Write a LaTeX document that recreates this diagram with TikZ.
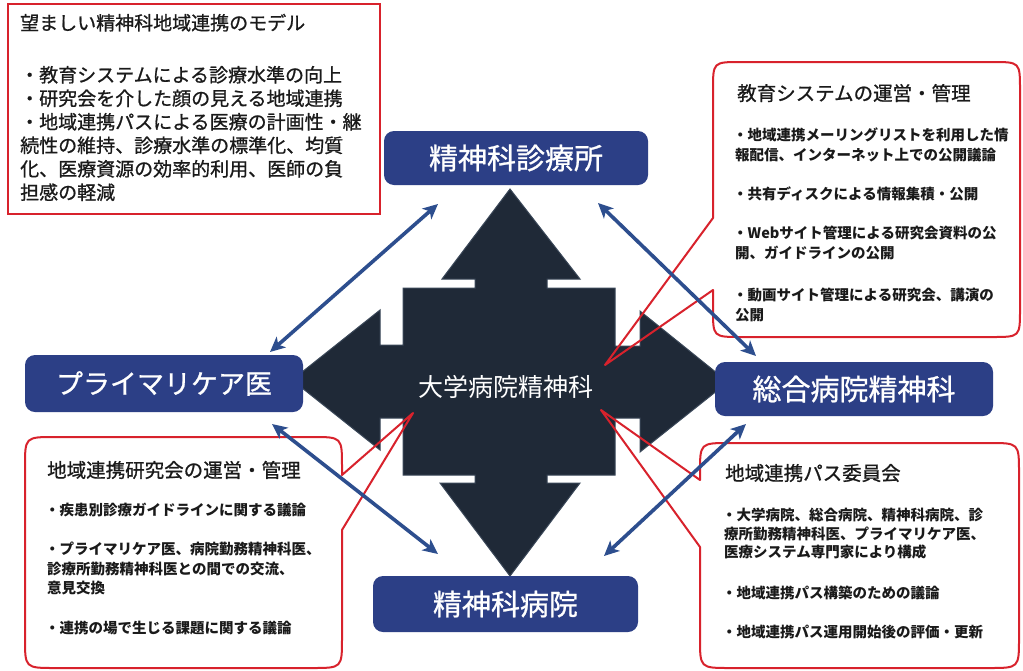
\documentclass[tikz,border=0pt]{standalone}
\usepackage{fontspec}
\newfontfamily\jp{Noto Sans CJK JP}
\newfontfamily\jpm[FakeBold=0.9]{Noto Sans CJK JP}
\usetikzlibrary{arrows.meta}
\definecolor{calloutred}{HTML}{D8222C}
\definecolor{nodeblue}{HTML}{2C3F86}
\definecolor{arrowblue}{HTML}{2D4E8E}
\definecolor{hubdark}{HTML}{1F2937}
\definecolor{hubedge}{HTML}{3A4758}
\definecolor{textdark}{HTML}{1A1A1A}
\begin{document}
\begin{tikzpicture}[x=1pt,y=-1pt,
  place/.style={fill=nodeblue, rounded corners=10pt, text=white, inner sep=0pt},
  hub/.style={fill=hubdark, draw=hubedge, line width=1pt, line join=miter},
  callout/.style={draw=calloutred, line width=2pt, line join=round},
  modelbox/.style={draw=calloutred, line width=2pt, fill=white},
  conn/.style={draw=arrowblue, line width=3.6pt, {Stealth[length=15pt,width=14pt,inset=4pt]}-{Stealth[length=15pt,width=14pt,inset=4pt]}},
  ttl/.style={anchor=base west, inner sep=0pt, text=textdark, font=\jpm\fontsize{19.5}{19.5}\selectfont},
  mdl/.style={anchor=base west, inner sep=0pt, text=textdark, font=\jpm\fontsize{19}{19}\selectfont},
  body/.style={anchor=base west, inner sep=0pt, text=textdark, font=\jp\bfseries\fontsize{14.5}{14.5}\selectfont}]
\useasboundingbox (0,0) rectangle (1023,670);
\fill[white] (0,0) rectangle (1023,670);

% model box (top left)
\draw[modelbox] (8,4) rectangle (380,214);
\node[mdl] (m0) at (20,30) {望ましい精神科地域連携のモデル};
\node[mdl] (m1) at (20,82) {・教育システムによる診療水準の向上};
\node[mdl] (m2) at (20,105.5) {・研究会を介した顔の見える地域連携};
\node[mdl] (m3) at (20,129) {・地域連携パスによる医療の計画性・継};
\node[mdl] (m4) at (20,152.5) {続性の維持、診療水準の標準化、均質};
\node[mdl] (m5) at (20,176) {化、医療資源の効率的利用、医師の負};
\node[mdl] (m6) at (20,199.5) {担感の軽減};

% central hub shape
\path[hub] (510,189) -- (580,279) -- (547,279) -- (547,288) -- (615,288) -- (615,346) -- (640,346) -- (640,311) -- (728,382) -- (640,452) -- (640,418) -- (615,418) -- (615,475) -- (547,475) -- (547,483) -- (580,483) -- (510,576) -- (440,483) -- (475,483) -- (475,475) -- (403,475) -- (403,418) -- (380,418) -- (380,450) -- (292,380) -- (380,310) -- (380,345) -- (403,345) -- (403,288) -- (475,288) -- (475,279) -- (442,279) -- cycle;
\node[text=white, inner sep=0pt, font=\jp\fontsize{25}{25}\selectfont] (hubtext) at (506,387) {大学病院精神科};

% callout: top right
\draw[callout] (800,62) -- (992,62) .. controls (1020,62) .. (1020,90) -- (1020,309) .. controls (1020,337) .. (992,337) -- (741,337) .. controls (713,337) .. (713,309) -- (713,290) -- (605,365) -- (713,218) -- (713,90) .. controls (713,62) .. (741,62) -- cycle;
\node[ttl] (tr0) at (737,100.5) {教育システムの運営・管理};
\node[body] (tr1) at (733,140.5) {・地域連携メーリングリストを利用した情};
\node[body] (tr2) at (735,160) {報配信、インターネット上での公開議論};
\node[body] (tr3) at (733,199) {・共有ディスクによる情報集積・公開};
\node[body] (tr4) at (733,238.5) {・Webサイト管理による研究会資料の公};
\node[body] (tr5) at (735,258.5) {開、ガイドラインの公開};
\node[body] (tr6) at (733,300.5) {・動画サイト管理による研究会、講演の};
\node[body] (tr7) at (735,320) {公開};

% callout: bottom left
\draw[callout] (150,437) -- (312,437) .. controls (342,437) .. (342,467) -- (342,475) -- (413,413) -- (342,530) -- (342,638) .. controls (342,668) .. (312,668) -- (55,668) .. controls (25,668) .. (25,638) -- (25,467) .. controls (25,437) .. (55,437) -- cycle;
\node[ttl] (bl0) at (47,477.4) {地域連携研究会の運営・管理};
\node[body] (bl1) at (45,515.5) {・疾患別診療ガイドラインに関する議論};
\node[body] (bl2) at (45,554.5) {・プライマリケア医、病院勤務精神科医、};
\node[body] (bl3) at (47,574) {診療所勤務精神科医との間での交流、};
\node[body] (bl4) at (47,593.5) {意見交換};
\node[body] (bl5) at (45,633.5) {・連携の場で生じる課題に関する議論};

% callout: bottom right
\draw[callout] (850,443) -- (989,443) .. controls (1019,443) .. (1019,473) -- (1019,638) .. controls (1019,668) .. (989,668) -- (730,668) .. controls (700,668) .. (700,638) -- (700,547) -- (601,410) -- (700,480) -- (700,473) .. controls (700,443) .. (730,443) -- cycle;
\node[ttl] (br0) at (725,480.4) {地域連携パス委員会};
\node[body] (br1) at (722,520.5) {・大学病院、総合病院、精神科病院、診};
\node[body] (br2) at (724,539.5) {療所勤務精神科医、プライマリケア医、};
\node[body] (br3) at (724,557.5) {医療システム専門家により構成};
\node[body] (br4) at (722,598.5) {・地域連携パス構築のための議論};
\node[body] (br5) at (722,637.5) {・地域連携パス運用開始後の評価・更新};

% blue nodes
\node[place, minimum width=264pt, minimum height=54pt, font=\jpm\fontsize{29}{29}\selectfont] (clinic) at (516,158) {精神科診療所};
\node[place, minimum width=278pt, minimum height=57pt, font=\jpm\fontsize{27}{27}\selectfont] (primary) at (164,383.5) {プライマリケア医};
\node[place, minimum width=278pt, minimum height=54pt, font=\jpm\fontsize{29}{29}\selectfont] (general) at (854,389) {総合病院精神科};
\node[place, minimum width=265pt, minimum height=56pt, font=\jpm\fontsize{29}{29}\selectfont] (hospital) at (505.5,604) {精神科病院};

% blue double arrows
\coordinate (a1s) at (270,352);
\coordinate (a1e) at (438,204);
\coordinate (a2s) at (598,203);
\coordinate (a2e) at (756,356);
\coordinate (a3s) at (272,424);
\coordinate (a3e) at (438,554);
\coordinate (a4s) at (746,424);
\coordinate (a4e) at (604,556);
\draw[conn] (a1s) -- (a1e);
\draw[conn] (a2s) -- (a2e);
\draw[conn] (a3s) -- (a3e);
\draw[conn] (a4s) -- (a4e);
\end{tikzpicture}
\end{document}
